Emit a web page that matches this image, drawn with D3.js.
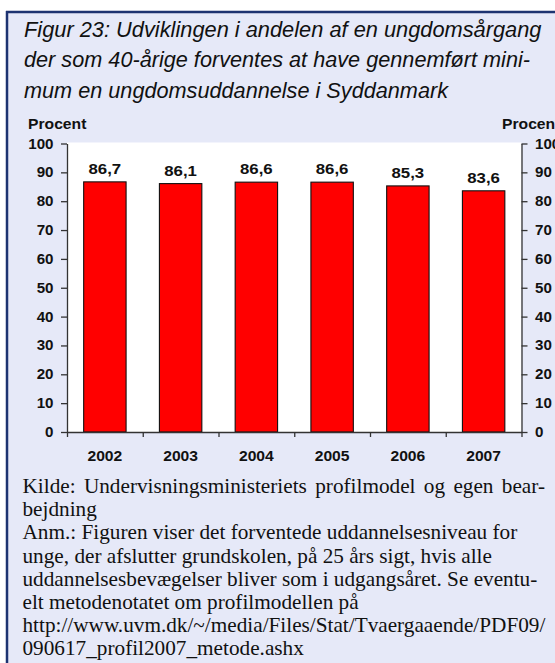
<!DOCTYPE html>
<html><head><meta charset="utf-8">
<script src="https://cdn.jsdelivr.net/npm/d3@7"></script>
<style>html,body{margin:0;padding:0;background:#fff;overflow:hidden}</style>
</head><body>
<script>
const years = ["2002","2003","2004","2005","2006","2007"];
const values = [86.7, 86.1, 86.6, 86.6, 85.3, 83.6];
const yTicks = [0,10,20,30,40,50,60,70,80,90,100];
const axisTitle = "Procent";
const titleLines = [
  "Figur 23: Udviklingen i andelen af en ungdomsårgang",
  "der som 40-årige forventes at have gennemført mini-",
  "mum en ungdomsuddannelse i Syddanmark"
];
const noteLines = [
  "Kilde: Undervisningsministeriets profilmodel og egen bear-",
  "bejdning",
  "Anm.: Figuren viser det forventede uddannelsesniveau for",
  "unge, der afslutter grundskolen, på 25 års sigt, hvis alle",
  "uddannelsesbevægelser bliver som i udgangsåret. Se eventu-",
  "elt metodenotatet om profilmodellen på",
  "http://www.uvm.dk/~/media/Files/Stat/Tvaergaaende/PDF09/",
  "090617_profil2007_metode.ashx"
];

const W = 555, H = 663;
const svg = d3.select("body").append("svg").attr("width", W).attr("height", H);

// panel background + border
svg.append("rect").attr("x", 7).attr("y", 12).attr("width", W - 7).attr("height", H - 12).attr("fill", "#E6E9F8");
svg.append("line").attr("x1", 6).attr("x2", W).attr("y1", 12).attr("y2", 12).attr("stroke", "#1D3371").attr("stroke-width", 2.5);
svg.append("line").attr("x1", 7).attr("x2", 7).attr("y1", 11).attr("y2", H).attr("stroke", "#1D3371").attr("stroke-width", 2.5);

// title
const titleX = 24, titleBase = [37, 67, 97.5], titleW = [517.5, 506, 424];
titleLines.forEach((t, i) => {
  svg.append("text").attr("x", titleX).attr("y", titleBase[i])
    .attr("font-family", "'Liberation Sans Narrow','Arial Narrow','Liberation Sans',Arial,sans-serif")
    .attr("font-style", "italic").attr("font-size", 22).attr("fill", "#111")
    .attr("textLength", titleW[i]).attr("lengthAdjust", "spacingAndGlyphs")
    .text(t);
});

// chart
const x0 = 67, x1 = 521.5;
const x = d3.scaleBand().domain(years).range([x0, x1]).paddingInner(0.44).paddingOuter(0.22);
const xb = d3.scaleLinear().domain([0, years.length]).range([x0, x1]);
const y = d3.scaleLinear().domain([0, 100]).range([432, 143.5]);

svg.append("rect").attr("x", x0).attr("y", y(100) - 1).attr("width", x1 - x0).attr("height", y(0) - y(100) + 1).attr("fill", "#fff");

const boldFont = "'Liberation Sans',Arial,sans-serif";
const sx = 1.12;

// bars
svg.append("g").selectAll("rect").data(values).join("rect")
  .attr("x", (d, i) => x(years[i])).attr("y", d => y(d))
  .attr("width", x.bandwidth()).attr("height", d => y(0) - y(d))
  .attr("fill", "#FF0000").attr("stroke", "#111").attr("stroke-width", 1.1);

// value labels
svg.append("g").selectAll("text").data(values).join("text")
  .attr("transform", (d, i) => `translate(${x(years[i]) + x.bandwidth() / 2},${y(d) - 8}) scale(${sx},1)`)
  .attr("text-anchor", "middle").attr("font-family", boldFont).attr("font-weight", "bold")
  .attr("font-size", 15).attr("fill", "#111")
  .text(d => d3.format(".1f")(d).replace(".", ","));

// axes (lines + ticks)
const axisStyle = g => {
  g.selectAll("path,line").attr("stroke", "#333").attr("stroke-width", 1.3);
  g.selectAll("text").remove();
};
svg.append("g").attr("transform", `translate(${x0},0)`)
  .call(d3.axisLeft(y).tickValues(yTicks).tickSize(6).tickSizeOuter(0).tickFormat(""))
  .call(axisStyle);
svg.append("g").attr("transform", `translate(${x1},0)`)
  .call(d3.axisRight(y).tickValues(yTicks).tickSize(6).tickSizeOuter(0).tickFormat(""))
  .call(axisStyle);
svg.append("g").attr("transform", `translate(0,${y(0)})`)
  .call(d3.axisBottom(xb).tickValues(d3.range(0, years.length + 1)).tickSize(5).tickSizeOuter(0).tickFormat(""))
  .call(axisStyle);

// y tick labels
svg.append("g").selectAll("text").data(yTicks).join("text")
  .attr("transform", d => `translate(53.5,${y(d) + 5}) scale(1.08,1)`)
  .attr("text-anchor", "end").attr("font-family", boldFont).attr("font-weight", "bold")
  .attr("font-size", 14).attr("fill", "#111").text(d => d);
svg.append("g").selectAll("text").data(yTicks).join("text")
  .attr("transform", d => `translate(535,${y(d) + 5}) scale(1.08,1)`)
  .attr("text-anchor", "start").attr("font-family", boldFont).attr("font-weight", "bold")
  .attr("font-size", 14).attr("fill", "#111").text(d => d);

// x labels
svg.append("g").selectAll("text").data(years).join("text")
  .attr("transform", d => `translate(${x(d) + x.bandwidth() / 2},461) scale(${sx},1)`)
  .attr("text-anchor", "middle").attr("font-family", boldFont).attr("font-weight", "bold")
  .attr("font-size", 14).attr("fill", "#111").text(d => d);

// axis titles
[28, 502].forEach(px => {
  svg.append("text").attr("transform", `translate(${px},128.5) scale(${sx},1)`)
    .attr("text-anchor", "start").attr("font-family", boldFont).attr("font-weight", "bold")
    .attr("font-size", 14).attr("fill", "#111").text(axisTitle);
});

// notes
const noteX = 22.5, noteBase = 493, noteStep = 23.2;
const serif = "'Liberation Serif','Times New Roman',serif";
// fit font size to the URL line width
const probe = svg.append("text").attr("font-family", serif).attr("font-size", 20).text(noteLines[6]);
const probeW = probe.node().getComputedTextLength();
probe.remove();
const noteFs = 20 * (545.7 - noteX) / probeW;

noteLines.forEach((t, i) => {
  const yy = noteBase + i * noteStep;
  if (i === 0) {
    // justified line
    const words = t.split(" ");
    const g = svg.append("g");
    const nodes = words.map(w => g.append("text").attr("font-family", serif).attr("font-size", noteFs).attr("fill", "#111").attr("y", yy).text(w));
    const widths = nodes.map(n => n.node().getComputedTextLength());
    const total = d3.sum(widths);
    const gap = (545 - noteX - total) / (words.length - 1);
    let cx = noteX;
    nodes.forEach((n, k) => { n.attr("x", cx); cx += widths[k] + gap; });
  } else {
    svg.append("text").attr("x", noteX).attr("y", yy).attr("font-family", serif)
      .attr("font-size", noteFs).attr("fill", "#111").text(t);
  }
});
</script>
</body></html>
